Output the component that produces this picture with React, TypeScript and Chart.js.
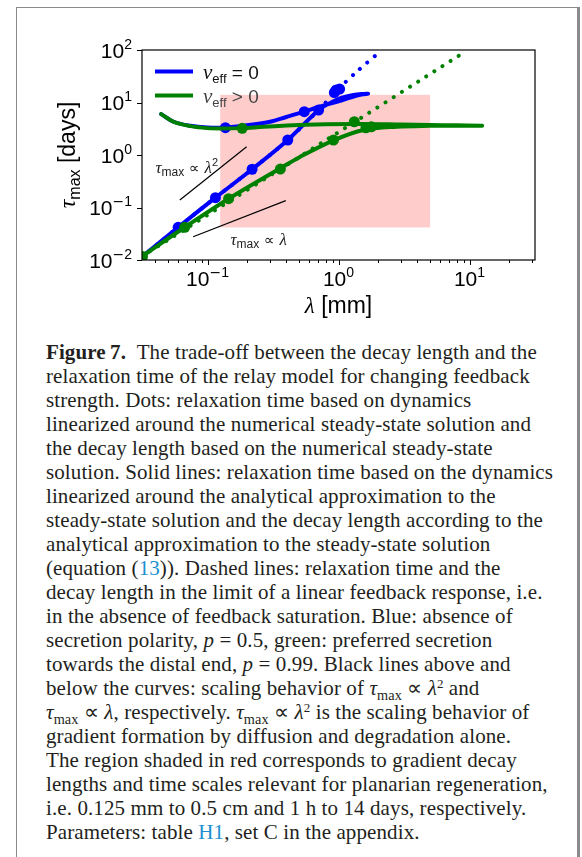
import React, { useEffect, useRef } from 'react';
import { Chart, registerables } from 'chart.js';
Chart.register(...registerables);

// ---------- axes ----------
const X_MIN = Math.pow(10, -1.5);
const X_MAX = Math.pow(10, 1.5);
const Y_MIN = 0.01;
const Y_MAX = 100;
const xMajorTicks = [0.1, 1, 10];
const xMajorExp = ['\u22121', '0', '1'];
const xMinorTicks = [0.04, 0.05, 0.06, 0.07, 0.08, 0.09, 0.2, 0.3, 0.4, 0.5, 0.6, 0.7, 0.8, 0.9, 2, 3, 4, 5, 6, 7, 8, 9, 20, 30];
const yMajorTicks = [0.01, 0.1, 1, 10, 100];
const yMajorExp = ['\u22122', '\u22121', '0', '1', '2'];

// ---------- shaded region (0.125 mm – 5 mm, 1 h – 14 days) ----------
const regionLambda = [0.125, 5];
const regionTau = [1 / 24, 14];

// ---------- blue: v_eff = 0 ----------
const blueSolidLambda = [0.0316, 0.0597, 0.115, 0.219, 0.41, 0.705, 0.85, 1.05, 1.3, 1.55, 1.68, 1.5, 1.25, 1.0, 0.8, 0.7, 0.548, 0.4, 0.3, 0.2, 0.137, 0.1, 0.074, 0.055, 0.0443];
const blueSolidTau = [0.0115, 0.042, 0.154, 0.535, 1.93, 7.2, 9.6, 12.2, 13.9, 14.6, 14.7, 14.2, 12.6, 10.5, 9.0, 8.2, 6.7, 5.3, 4.3, 3.7, 3.35, 3.35, 3.6, 4.3, 6.0];
const blueDotLambda = [0.0597, 0.115, 0.219, 0.41, 0.705, 0.137, 0.548, 0.93, 0.96, 1.02];
const blueDotTau = [0.042, 0.154, 0.535, 1.93, 7.2, 3.31, 6.68, 15.5, 17.3, 18.0];
const blueLinLambda = [0.0316, 0.0597, 0.115, 0.219, 0.41, 0.705, 0.96, 1.4, 2.0];
const blueLinTau = [0.0115, 0.042, 0.154, 0.535, 1.93, 7.2, 16.5, 40, 86];

// ---------- green: v_eff > 0 ----------
const greenSolidLambda = [0.0316, 0.067, 0.145, 0.36, 0.5, 0.916, 1.55, 2.79, 5.0, 8.0, 12.5, 8.0, 5.0, 3.0, 1.5, 0.8, 0.4, 0.25, 0.184, 0.13, 0.1, 0.074, 0.055, 0.0443];
const greenSolidTau = [0.0117, 0.042, 0.147, 0.56, 0.9, 1.9, 2.99, 3.46, 3.6, 3.62, 3.6, 3.68, 3.72, 3.8, 3.9, 3.85, 3.65, 3.4, 3.25, 3.2, 3.25, 3.55, 4.3, 6.0];
const greenDotLambda = [0.0319, 0.067, 0.145, 0.36, 0.916, 0.184, 1.32, 1.62, 1.78];
const greenDotTau = [0.0117, 0.042, 0.147, 0.54, 1.93, 3.22, 4.3, 3.3, 3.45];
const greenLinLambda = [0.0316, 0.768, 8.7];
const greenLinTau = [0.0117, 1.79, 84];

// ---------- scaling guides ----------
const guideSqLambda = [0.0615, 0.199];
const guideSqTau = [0.139, 1.44];
const guideLinLambda = [0.0777, 0.396];
const guideLinTau = [0.0278, 0.135];
const guideSqLabelAt = [0.0401, 0.565];
const guideLinLabelAt = [0.1496, 0.024];

const BLUE = '#0000ff';
const GREEN = '#008000';

type Run = { t: string; f: string; dy?: number };

function runsWidth(ctx: CanvasRenderingContext2D, runs: Run[]) {
  let w = 0;
  for (const r of runs) {
    ctx.font = r.f;
    w += ctx.measureText(r.t).width;
  }
  return w;
}

function drawRuns(ctx: CanvasRenderingContext2D, runs: Run[], x: number, y: number, align: 'left' | 'center' | 'right') {
  const w = runsWidth(ctx, runs);
  let cx = align === 'left' ? x : align === 'center' ? x - w / 2 : x - w;
  ctx.textAlign = 'left';
  ctx.textBaseline = 'alphabetic';
  for (const r of runs) {
    ctx.font = r.f;
    ctx.fillText(r.t, cx, y + (r.dy || 0));
    cx += ctx.measureText(r.t).width;
  }
}

const SANS = '"Liberation Sans", Arial, sans-serif';
const MATH = '"Liberation Serif", serif';

function powRuns(exp: string): Run[] {
  const runs: Run[] = [{ t: '10', f: `21px ${SANS}` }];
  if (exp.startsWith('\u2212')) {
    runs.push({ t: '\u2212', f: `14px "DejaVu Sans"`, dy: -9 });
    runs.push({ t: exp.slice(1), f: `14px ${SANS}`, dy: -9 });
  } else {
    runs.push({ t: exp, f: `14px ${SANS}`, dy: -9 });
  }
  return runs;
}

const decor = {
  id: 'decor',
  beforeDatasetsDraw(chart: any) {
    const { ctx, scales } = chart;
    const x = scales.x, y = scales.y;
    const x0 = x.getPixelForValue(regionLambda[0]);
    const x1 = x.getPixelForValue(regionLambda[1]);
    const y0 = y.getPixelForValue(regionTau[0]);
    const y1 = y.getPixelForValue(regionTau[1]);
    ctx.save();
    ctx.fillStyle = 'rgba(255,0,0,0.2)';
    ctx.fillRect(x0, y1, x1 - x0, y0 - y1);
    ctx.restore();
  },
  afterDatasetsDraw(chart: any) {
    const { ctx, chartArea, scales } = chart;
    const x = scales.x, y = scales.y;
    const { left, right, top, bottom } = chartArea;
    ctx.save();
    // frame
    ctx.strokeStyle = '#000';
    ctx.lineWidth = 1.2;
    ctx.strokeRect(left, top, right - left, bottom - top);
    // ticks
    ctx.lineWidth = 1;
    ctx.beginPath();
    for (const v of xMajorTicks) {
      const px = Math.round(x.getPixelForValue(v)) + 0.5;
      ctx.moveTo(px, bottom);
      ctx.lineTo(px, bottom + 5);
    }
    for (const v of xMinorTicks) {
      const px = Math.round(x.getPixelForValue(v)) + 0.5;
      ctx.moveTo(px, bottom);
      ctx.lineTo(px, bottom + 3);
    }
    for (const v of yMajorTicks) {
      const py = Math.round(y.getPixelForValue(v)) + 0.5;
      ctx.moveTo(left, py);
      ctx.lineTo(left - 5, py);
    }
    ctx.stroke();
    // tick labels
    ctx.fillStyle = '#000';
    xMajorTicks.forEach((v, i) => {
      drawRuns(ctx, powRuns(xMajorExp[i]), x.getPixelForValue(v), bottom + 26, 'center');
    });
    yMajorTicks.forEach((v, i) => {
      drawRuns(ctx, powRuns(yMajorExp[i]), left - 10, y.getPixelForValue(v) + 7.5, 'right');
    });
    // axis titles
    drawRuns(ctx, [
      { t: '\u03bb', f: `italic 23px ${MATH}` },
      { t: ' [mm]', f: `23px ${SANS}` },
    ], (left + right) / 2, bottom + 53, 'center');
    ctx.save();
    ctx.translate(75, (top + bottom) / 2);
    ctx.rotate(-Math.PI / 2);
    drawRuns(ctx, [
      { t: '\u03c4', f: `italic 24px ${MATH}` },
      { t: 'max', f: `16px ${SANS}`, dy: 5 },
      { t: ' [days]', f: `23px ${SANS}` },
    ], 0, 0, 'center');
    ctx.restore();
    // legend
    const legendItems = [
      { c: BLUE, sym: ' = 0' },
      { c: GREEN, sym: ' > 0' },
    ];
    legendItems.forEach((it, i) => {
      const ly = top + 21.5 + i * 24;
      ctx.strokeStyle = it.c;
      ctx.lineWidth = 4;
      ctx.lineCap = 'butt';
      ctx.beginPath();
      ctx.moveTo(left + 13, ly);
      ctx.lineTo(left + 51, ly);
      ctx.stroke();
      ctx.fillStyle = i === 0 ? '#111' : '#444';
      drawRuns(ctx, [
        { t: 'v', f: `italic 21px ${MATH}` },
        { t: 'eff', f: `13px ${SANS}`, dy: 4 },
        { t: it.sym, f: `19px ${SANS}` },
      ], left + 61, ly + 7, 'left');
    });
    // guide labels
    ctx.fillStyle = '#222';
    drawRuns(ctx, [
      { t: '\u03c4', f: `italic 17px ${MATH}` },
      { t: 'max', f: `12px ${SANS}`, dy: 3 },
      { t: ' \u221d ', f: `15px "DejaVu Sans"` },
      { t: '\u03bb', f: `italic 17px ${MATH}` },
      { t: '2', f: `11px ${SANS}`, dy: -7 },
    ], x.getPixelForValue(guideSqLabelAt[0]), y.getPixelForValue(guideSqLabelAt[1]) + 5, 'left');
    drawRuns(ctx, [
      { t: '\u03c4', f: `italic 17px ${MATH}` },
      { t: 'max', f: `12px ${SANS}`, dy: 3 },
      { t: ' \u221d ', f: `15px "DejaVu Sans"` },
      { t: '\u03bb', f: `italic 17px ${MATH}` },
    ], x.getPixelForValue(guideLinLabelAt[0]), y.getPixelForValue(guideLinLabelAt[1]) + 5, 'left');
    ctx.restore();
  },
};

const pts = (xs: number[], ys: number[]) => xs.map((v, i) => ({ x: v, y: ys[i] }));

const lineStyle = (color: string, order: number) => ({
  showLine: true,
  borderColor: color,
  backgroundColor: color,
  borderWidth: 4,
  pointRadius: 0,
  tension: 0.35,
  borderJoinStyle: 'round' as const,
  borderCapStyle: 'round' as const,
  order,
});
const dottedStyle = (color: string, order: number) => ({
  showLine: true,
  borderColor: color,
  backgroundColor: color,
  borderWidth: 4,
  pointRadius: 0,
  tension: 0.3,
  borderDash: [0.01, 9.6],
  borderCapStyle: 'round' as const,
  order,
});
const dotStyle = (color: string, order: number) => ({
  showLine: false,
  borderColor: color,
  backgroundColor: color,
  pointRadius: 5.5,
  pointBorderWidth: 0,
  order,
});

function FigureChart() {
  const ref = useRef<HTMLCanvasElement>(null);
  useEffect(() => {
    const canvas = ref.current!;
    const chart = new Chart(canvas, {
      type: 'scatter',
      data: {
        datasets: [
          { data: pts(blueSolidLambda, blueSolidTau), ...lineStyle(BLUE, 10) },
          { data: pts(blueLinLambda, blueLinTau), ...dottedStyle(BLUE, 9) },
          { data: pts(blueDotLambda, blueDotTau), ...dotStyle(BLUE, 8) },
          { data: pts(greenSolidLambda, greenSolidTau), ...lineStyle(GREEN, 7) },
          { data: pts(greenLinLambda, greenLinTau), ...dottedStyle(GREEN, 6) },
          { data: pts(greenDotLambda, greenDotTau), ...dotStyle(GREEN, 5) },
          { data: pts(guideSqLambda, guideSqTau), showLine: true, borderColor: '#000', borderWidth: 1.2, pointRadius: 0, order: 4 },
          { data: pts(guideLinLambda, guideLinTau), showLine: true, borderColor: '#000', borderWidth: 1.2, pointRadius: 0, order: 3 },
        ] as any,
      },
      options: {
        animation: false,
        responsive: false,
        devicePixelRatio: 1,
        events: [],
        layout: { padding: { left: 0, right: 47, top: 50, bottom: 10 } },
        plugins: { legend: { display: false }, tooltip: { enabled: false } },
        scales: {
          x: {
            type: 'logarithmic',
            min: X_MIN,
            max: X_MAX,
            grid: { display: false },
            border: { display: false },
            ticks: { display: false },
            afterFit: (s: any) => { s.height = 60; },
          },
          y: {
            type: 'logarithmic',
            min: Y_MIN,
            max: Y_MAX,
            grid: { display: false },
            border: { display: false },
            ticks: { display: false },
            afterFit: (s: any) => { s.width = 142; },
          },
        },
      } as any,
      plugins: [decor],
    });
    return () => chart.destroy();
  }, []);
  return (
    <canvas
      ref={ref}
      width={582}
      height={330}
      style={{ position: 'absolute', left: 0, top: 0, width: 582, height: 330 }}
    />
  );
}

const LINK = '#1a8fd0';
const Sub = ({ children }: { children: React.ReactNode }) => (
  <span style={{ fontSize: '0.68em', position: 'relative', top: '0.32em' }}>{children}</span>
);
const Sup = ({ children }: { children: React.ReactNode }) => (
  <span style={{ fontSize: '0.62em', position: 'relative', top: '-0.55em' }}>{children}</span>
);
const TauMax = () => (<><i>τ</i><Sub>max</Sub></>);

const captionLines: React.ReactNode[] = [
  <><b>Figure{'\u2009'}7.</b>&nbsp;&nbsp;The trade-off between the decay length and the</>,
  <>relaxation time of the relay model for changing feedback</>,
  <>strength. Dots: relaxation time based on dynamics</>,
  <>linearized around the numerical steady-state solution and</>,
  <>the decay length based on the numerical steady-state</>,
  <>solution. Solid lines: relaxation time based on the dynamics</>,
  <>linearized around the analytical approximation to the</>,
  <>steady-state solution and the decay length according to the</>,
  <>analytical approximation to the steady-state solution</>,
  <>(equation (<span style={{ color: LINK }}>13</span>)). Dashed lines: relaxation time and the</>,
  <>decay length in the limit of a linear feedback response, i.e.</>,
  <>in the absence of feedback saturation. Blue: absence of</>,
  <>secretion polarity, <i>p</i> = 0.5, green: preferred secretion</>,
  <>towards the distal end, <i>p</i> = 0.99. Black lines above and</>,
  <>below the curves: scaling behavior of <TauMax /> ∝ <i>λ</i><Sup>2</Sup> and</>,
  <><TauMax /> ∝ <i>λ</i>, respectively. <TauMax /> ∝ <i>λ</i><Sup>2</Sup> is the scaling behavior of</>,
  <>gradient formation by diffusion and degradation alone.</>,
  <>The region shaded in red corresponds to gradient decay</>,
  <>lengths and time scales relevant for planarian regeneration,</>,
  <>i.e. 0.125 mm to 0.5 cm and 1 h to 14 days, respectively.</>,
  <>Parameters: table <span style={{ color: LINK }}>H1</span>, set C in the appendix.</>,
];

export default function App() {
  return (
    <>
      <div
        style={{
          position: 'absolute',
          left: 16,
          top: 7,
          width: 564,
          height: 850,
          borderLeft: '1.5px solid #8a8a8a',
          borderTop: '1.5px solid #8a8a8a',
          borderRight: '3px solid #8a8a8a',
          boxSizing: 'border-box',
        }}
      />
      <FigureChart />
      <div
        style={{
          position: 'absolute',
          left: 46,
          top: 340,
          fontFamily: '"Liberation Serif", "Times New Roman", serif',
          fontSize: 21,
          letterSpacing: '0.1px',
          lineHeight: '24px',
          color: '#231f20',
        }}
      >
        {captionLines.map((l, i) => (
          <div key={i} style={{ whiteSpace: 'nowrap', height: 24 }}>{l}</div>
        ))}
      </div>
    </>
  );
}
